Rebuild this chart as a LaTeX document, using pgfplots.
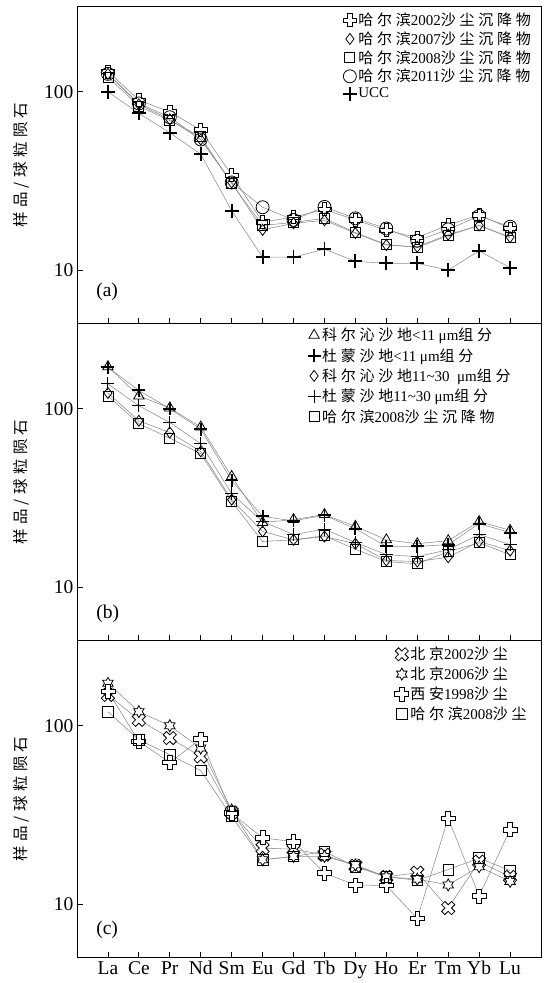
\documentclass[border=0pt]{standalone}
\usepackage{fontspec}
\setmainfont{Liberation Serif}
\newfontfamily\cjk[LetterSpace=25]{Noto Sans CJK SC}
\newfontfamily\cjkl[LetterSpace=28]{Noto Sans CJK SC}
\usepackage{pgfplots}
\pgfplotsset{compat=1.18}

\pgfdeclareplotmark{hplus}{%
  \pgfpathmoveto{\pgfpoint{0.33\pgfplotmarksize}{\pgfplotmarksize}}%
  \pgfpathlineto{\pgfpoint{0.33\pgfplotmarksize}{0.33\pgfplotmarksize}}%
  \pgfpathlineto{\pgfpoint{\pgfplotmarksize}{0.33\pgfplotmarksize}}%
  \pgfpathlineto{\pgfpoint{\pgfplotmarksize}{-0.33\pgfplotmarksize}}%
  \pgfpathlineto{\pgfpoint{0.33\pgfplotmarksize}{-0.33\pgfplotmarksize}}%
  \pgfpathlineto{\pgfpoint{0.33\pgfplotmarksize}{-\pgfplotmarksize}}%
  \pgfpathlineto{\pgfpoint{-0.33\pgfplotmarksize}{-\pgfplotmarksize}}%
  \pgfpathlineto{\pgfpoint{-0.33\pgfplotmarksize}{-0.33\pgfplotmarksize}}%
  \pgfpathlineto{\pgfpoint{-\pgfplotmarksize}{-0.33\pgfplotmarksize}}%
  \pgfpathlineto{\pgfpoint{-\pgfplotmarksize}{0.33\pgfplotmarksize}}%
  \pgfpathlineto{\pgfpoint{-0.33\pgfplotmarksize}{0.33\pgfplotmarksize}}%
  \pgfpathlineto{\pgfpoint{-0.33\pgfplotmarksize}{\pgfplotmarksize}}%
  \pgfpathclose
  \pgfusepathqfillstroke
}
\pgfdeclareplotmark{hexstar}{%
  \pgfpathmoveto{\pgfpointpolar{90}{\pgfplotmarksize}}%
  \pgfpathlineto{\pgfpointpolar{120}{0.577\pgfplotmarksize}}%
  \pgfpathlineto{\pgfpointpolar{150}{\pgfplotmarksize}}%
  \pgfpathlineto{\pgfpointpolar{180}{0.577\pgfplotmarksize}}%
  \pgfpathlineto{\pgfpointpolar{210}{\pgfplotmarksize}}%
  \pgfpathlineto{\pgfpointpolar{240}{0.577\pgfplotmarksize}}%
  \pgfpathlineto{\pgfpointpolar{270}{\pgfplotmarksize}}%
  \pgfpathlineto{\pgfpointpolar{300}{0.577\pgfplotmarksize}}%
  \pgfpathlineto{\pgfpointpolar{330}{\pgfplotmarksize}}%
  \pgfpathlineto{\pgfpointpolar{0}{0.577\pgfplotmarksize}}%
  \pgfpathlineto{\pgfpointpolar{30}{\pgfplotmarksize}}%
  \pgfpathlineto{\pgfpointpolar{60}{0.577\pgfplotmarksize}}%
  \pgfpathclose
  \pgfusepathqfillstroke
}

\tikzset{
  rl/.style 2 args={color=black!45, line width=0.55pt, mark=#1, mark size=#2,
    mark options={solid, draw=black, fill=white, line width=0.8pt}},
  rlt/.style 2 args={color=black!45, line width=0.55pt, mark=#1, mark size=#2,
    mark options={solid, draw=black, line width=1.9pt}},
}
\pgfplotsset{
  every axis/.append style={
    scale only axis, width=464pt, height=317pt,
    anchor=north west,
    ymode=log, ymin=5, ymax=300, xmin=-1, xmax=14,
    xtick={0,...,13}, ytick={10,100}, yminorticks=false,
    log ticks with fixed point,
    /pgf/number format/assume math mode=true,
    tick align=inside, xtick pos=bottom, ytick pos=left,
    major tick length=6pt,
    tick style={black, line width=0.8pt},
    axis line style={line width=0.9pt},
    ticklabel style={font=\fontsize{19.5}{19.5}\selectfont},
    ylabel={\fontsize{15.5}{15.5}\selectfont\cjkl 样品/球粒陨石},
    ylabel style={at={(axis description cs:-0.1207,0.5)}, anchor=center},
    legend cell align=left,
    legend style={draw=none, fill=none, inner sep=0pt, outer sep=0pt,
      anchor=north west, font=\fontsize{15}{15}\selectfont,
      nodes={inner sep=1.5pt}, row sep=1.5pt},
  },
  legend image code/.code={\draw[#1] plot coordinates {(0pt,0pt)};},
}

\begin{document}
\begin{tikzpicture}
% ---------------- (a)
\begin{axis}[at={(77pt,-6.7pt)}, xticklabels={},
  legend style={at={(axis description cs:0.573,1)}, yshift=-5pt}]
\addplot[rl={hplus}{6.5pt}] coordinates {(0,130)(1,89.8)(2,77.2)(3,61)(4,34.1)(5,18.6)(6,19.8)(7,21.9)(8,19.1)(9,16.7)(10,15.2)(11,17.9)(12,20.4)(13,17.1)};
\addlegendentry{{\cjk 哈尔滨}2002{\cjk 沙尘沉降物}}
\addplot[rl={diamond}{5.5pt}] coordinates {(0,126)(1,85)(2,70)(3,54)(4,31)(5,16.8)(6,18.3)(7,19.0)(8,16.1)(9,13.8)(10,13.5)(11,15.8)(12,17.8)(13,15.3)};
\addlegendentry{{\cjk 哈尔滨}2007{\cjk 沙尘沉降物}}
\addplot[rl={square}{5pt}] coordinates {(0,121)(1,83)(2,69)(3,56)(4,30.5)(5,17.8)(6,18.5)(7,19.5)(8,16.2)(9,13.9)(10,13.4)(11,15.6)(12,17.8)(13,15.2)};
\addlegendentry{{\cjk 哈尔滨}2008{\cjk 沙尘沉降物}}
\addplot[rl={o}{6.5pt}] coordinates {(0,126)(1,86)(2,72)(3,54)(4,31)(5,22.5)(6,19.1)(7,22.6)(8,19.5)(9,17.1)(10,14.6)(11,16.9)(12,20.1)(13,17.5)};
\addlegendentry{{\cjk 哈尔滨}2011{\cjk 沙尘沉降物}}
\addplot[rlt={+}{7pt}] coordinates {(0,100)(1,75.7)(2,58.9)(3,44.7)(4,21.5)(5,11.8)(6,11.8)(7,13.1)(8,11.2)(9,10.9)(10,10.9)(11,10.0)(12,12.8)(13,10.3)};
\addlegendentry{UCC}
\node[anchor=west, font=\fontsize{19.5}{19.5}\selectfont] at (rel axis cs:0.034,0.1) {(a)};
\end{axis}
% ---------------- (b)
\begin{axis}[at={(77pt,-323.7pt)}, xticklabels={},
  legend style={at={(axis description cs:0.497,1)}, yshift=-3pt, row sep=3.2pt}]
\addplot[rl={triangle}{6pt}] coordinates {(0,172)(1,118)(2,101)(3,79)(4,41.7)(5,23.0)(6,23.9)(7,25.5)(8,21.9)(9,18.4)(10,17.5)(11,18.2)(12,23.3)(13,20.8)};
\addlegendentry{{\cjk 科尔沁沙地}<11 μm{\cjk 组分}}
\addplot[rlt={+}{6.5pt}] coordinates {(0,171)(1,126.7)(2,100)(3,76.9)(4,39.6)(5,24.9)(6,23.5)(7,25.3)(8,21.2)(9,16.9)(10,16.9)(11,17.3)(12,22.7)(13,20.2)};
\addlegendentry{{\cjk 杜蒙沙地}<11 μm{\cjk 组分}}
\addplot[rl={diamond}{5.5pt}] coordinates {(0,122.5)(1,85.6)(2,73.6)(3,57.7)(4,30.9)(5,20.5)(6,18.4)(7,19.2)(8,17.5)(9,14.1)(10,13.9)(11,14.7)(12,18.0)(13,16.0)};
\addlegendentry{{\cjk 科尔沁沙地}11\textasciitilde30 \ μm{\cjk 组分}}
\addplot[color=black!45, line width=0.55pt, mark=+, mark size=6.5pt, mark options={solid, draw=black, line width=1.1pt}] coordinates {(0,138)(1,104)(2,83.8)(3,63.7)(4,33.4)(5,23.3)(6,19.7)(7,21.1)(8,17.8)(9,15.2)(10,14.8)(11,16.2)(12,19.7)(13,17.3)};
\addlegendentry{{\cjk 杜蒙沙地}11\textasciitilde30 μm{\cjk 组分}}
\addplot[rl={square}{5pt}] coordinates {(0,118)(1,82.4)(2,68.5)(3,55.9)(4,30.2)(5,18.0)(6,18.4)(7,19.4)(8,16.3)(9,13.9)(10,13.5)(11,15.8)(12,17.7)(13,15.2)};
\addlegendentry{{\cjk 哈尔滨}2008{\cjk 沙尘沉降物}}
\node[anchor=west, font=\fontsize{19.5}{19.5}\selectfont] at (rel axis cs:0.034,0.086) {(b)};
\end{axis}
% ---------------- (c)
\begin{axis}[at={(77pt,-640.7pt)},
  xticklabels={La,Ce,Pr,Nd,Sm,Eu,Gd,Tb,Dy,Ho,Er,Tm,Yb,Lu},
  legend style={at={(axis description cs:0.685,1)}, yshift=-5pt, row sep=2.6pt}]
\addplot[color=black!45, line width=0.55pt, mark=hplus, mark size=7pt, mark options={solid, draw=black, fill=white, line width=0.8pt, rotate=45}] coordinates {(0,149)(1,108)(2,85.3)(3,67.3)(4,32.7)(5,20.6)(6,20.3)(7,18.9)(8,16.4)(9,14.2)(10,15.0)(11,9.5)(12,17.3)(13,14.2)};
\addlegendentry{{\cjk 北京}2002{\cjk 沙尘}}
\addplot[rl={hexstar}{6pt}] coordinates {(0,173)(1,120)(2,100)(3,75)(4,33.7)(5,17.7)(6,18.5)(7,18.5)(8,16.6)(9,14.2)(10,13.8)(11,12.8)(12,16.2)(13,13.4)};
\addlegendentry{{\cjk 北京}2006{\cjk 沙尘}}
\addplot[rl={hplus}{7pt}] coordinates {(0,156)(1,81.7)(2,62.3)(3,84.2)(4,32.4)(5,23.5)(6,22.4)(7,14.9)(8,12.8)(9,12.7)(10,8.3)(11,30.3)(12,11.1)(13,26.1)};
\addlegendentry{{\cjk 西安}1998{\cjk 沙尘}}
\addplot[rl={square}{5.3pt}] coordinates {(0,120)(1,83.5)(2,68.8)(3,56.1)(4,31)(5,17.7)(6,18.5)(7,19.7)(8,16.2)(9,14.2)(10,13.6)(11,15.6)(12,18.1)(13,15.4)};
\addlegendentry{{\cjk 哈尔滨}2008{\cjk 沙尘}}
\node[anchor=west, font=\fontsize{19.5}{19.5}\selectfont] at (rel axis cs:0.034,0.087) {(c)};
\end{axis}
\pgfresetboundingbox
\useasboundingbox (0pt,0pt) rectangle (548pt,-983pt);
\end{tikzpicture}
\end{document}
